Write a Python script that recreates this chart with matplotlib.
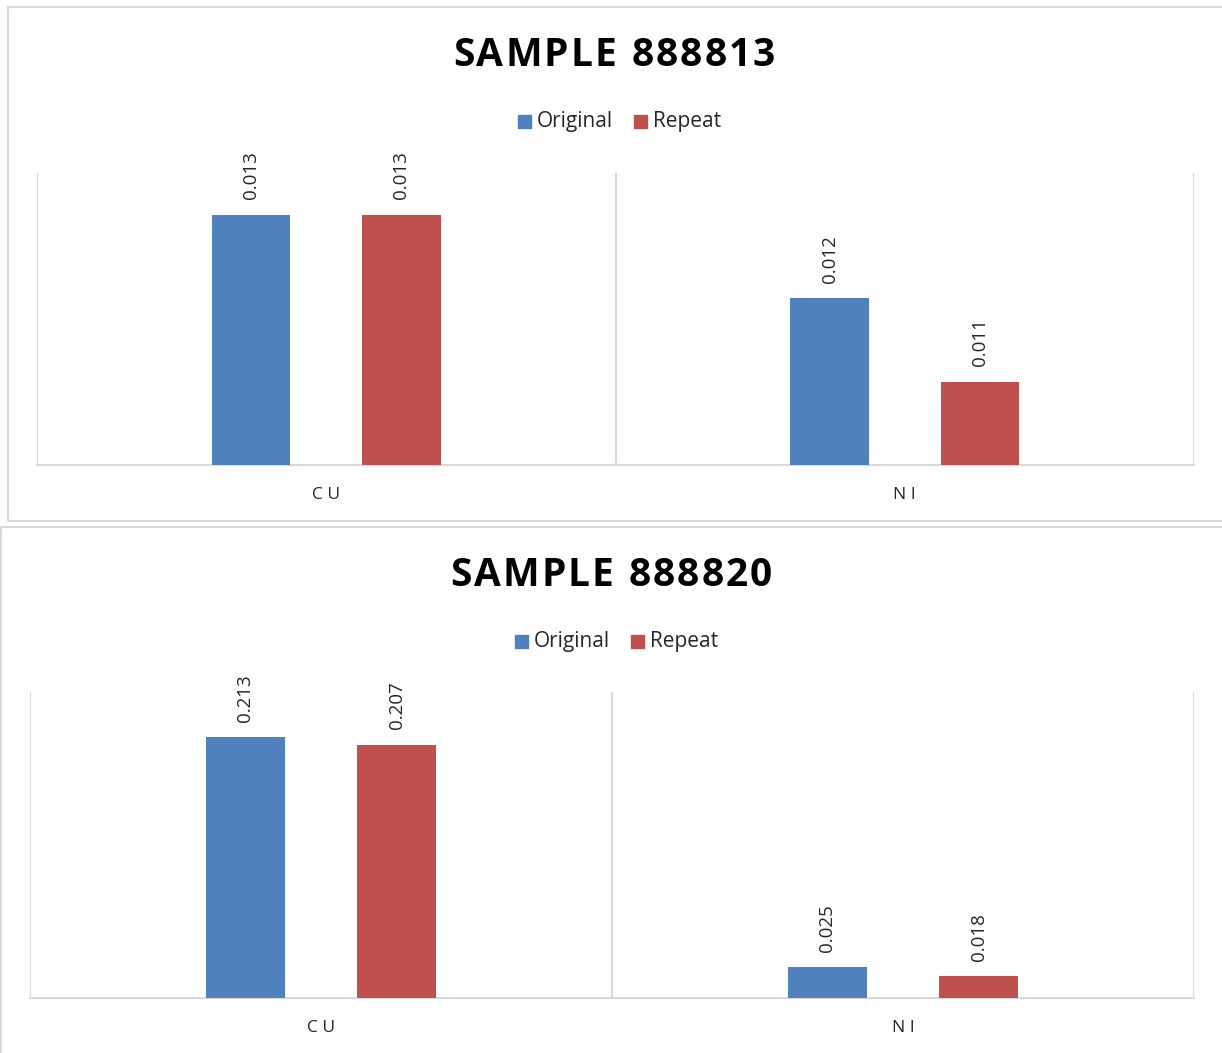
import matplotlib.pyplot as plt
from matplotlib.patches import Rectangle

plt.rcParams['font.family'] = ['Open Sans', 'DejaVu Sans']

categories = ['CU', 'NI']
series_names = ['Original', 'Repeat']
colors = ['#4f81bd', '#c0504d']

titles = ['SAMPLE 888813', 'SAMPLE 888820']
original_vals = [[0.013, 0.012], [0.213, 0.025]]
repeat_vals = [[0.013, 0.011], [0.207, 0.018]]
y_limits = [(0.010, 0.0135), (0.0, 0.25)]

W, H = 1222, 1053
fig = plt.figure(figsize=(W / 100, H / 100), dpi=100)
renderer = fig.canvas.get_renderer()


def fig_rect(x0, y0, x1, y1):
    # pixel box (top-left origin) -> figure fraction [left, bottom, width, height]
    return [x0 / W, 1 - y1 / H, (x1 - x0) / W, (y1 - y0) / H]


def fx(x):
    return x / W


def fy(y):
    return 1 - y / H


def spaced_text(cx, cy, s, track, **kw):
    # draw a string char by char with extra tracking (pixels), centred on cx
    widths = []
    for ch in s:
        probe = fig.text(0, 0, ch if ch != ' ' else 'n', **kw)
        w = probe.get_window_extent(renderer).width
        if ch == ' ':
            w *= 0.45
        widths.append(w)
        probe.remove()
    total = sum(widths) + track * (len(s) - 1)
    x = cx - total / 2
    for ch, w in zip(s, widths):
        if ch != ' ':
            fig.text(fx(x), fy(cy), ch, ha='left', va='center', **kw)
        x += w + track


grid_col = '#d9d9d9'

# chart frames
for (x0, y0, x1, y1) in [(8, 7, 1240, 521), (1, 527, 1240, 1070)]:
    fig.patches.append(Rectangle((fx(x0), fy(y1)), fx(x1 - x0), (y1 - y0) / H,
                                 transform=fig.transFigure, fill=False,
                                 edgecolor=grid_col, linewidth=1.5))

panels = [
    dict(ax=(37, 173, 1194, 465), title_x=614, title_y=56,
         legend_y=122, legend_x=518),
    dict(ax=(30, 692, 1194, 998), title_x=611, title_y=576,
         legend_y=642, legend_x=515),
]

for i, p in enumerate(panels):
    ax = fig.add_axes(fig_rect(*p['ax']))
    x = [0, 1]
    offs = [-0.13, 0.13]
    for vals, off, col in zip([original_vals[i], repeat_vals[i]], offs, colors):
        bars = ax.bar([xx + off for xx in x], vals, width=0.135, color=col,
                      edgecolor='none', zorder=3)
        for b, v in zip(bars, vals):
            ax.annotate(f'{v:.3f}', (b.get_x() + b.get_width() / 2, v),
                        xytext=(0, 11), textcoords='offset points',
                        rotation=90, ha='center', va='bottom', fontsize=13.5,
                        color='#262626')
    ax.set_xlim(-0.5, 1.5)
    ax.set_ylim(*y_limits[i])
    ax.set_yticks([])
    ax.set_xticks(x)
    ax.set_xticklabels([' '.join(c) for c in categories], fontsize=12.5,
                       color='#262626')
    ax.tick_params(axis='x', length=0, pad=16)
    for s in ['top', 'right', 'left']:
        ax.spines[s].set_visible(False)
    ax.spines['bottom'].set_color(grid_col)
    ax.spines['bottom'].set_linewidth(1.5)
    for gx in [-0.5, 0.5, 1.5]:
        ax.axvline(gx, color=grid_col, linewidth=1.5, zorder=1)

    # title
    spaced_text(p['title_x'], p['title_y'], titles[i], 2.0,
                fontsize=28, fontweight='bold', color='black')

    # legend
    lx = p['legend_x']
    ly = p['legend_y']
    for name, col, dx in zip(series_names, colors, [0, 116]):
        fig.patches.append(Rectangle((fx(lx + dx), fy(ly + 6)), 13 / W, 13 / H,
                                     transform=fig.transFigure, color=col))
        fig.text(fx(lx + dx + 19), fy(ly), name, ha='left', va='center',
                 fontsize=15, color='#262626')

fig.savefig('out.png', dpi=100)
